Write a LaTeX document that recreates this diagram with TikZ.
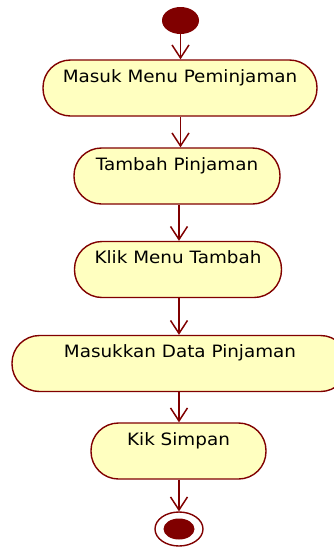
\documentclass[tikz,border=0pt]{standalone}
\usepackage{fontspec}
\setmainfont{DejaVu Sans}[FakeStretch=1.08]
\usetikzlibrary{arrows.meta,shapes.geometric}
\definecolor{umlred}{HTML}{800000}
\definecolor{umlfill}{HTML}{FFFFC0}
\tikzset{
  action/.style={draw=umlred, fill=umlfill, line width=1.4pt,
    rectangle, rounded corners=27.5pt, minimum height=56pt, inner sep=0pt,
    text height=13pt, text depth=25pt,
    font=\fontsize{17}{20}\selectfont},
  flow/.style={draw=umlred, line width=1.5pt,
    -{Straight Barb[length=13pt,width=17pt,line width=1.5pt]}},
  startnode/.style={ellipse, fill=umlred, minimum width=37pt, minimum height=27pt, inner sep=0pt},
}
\begin{document}
\begin{tikzpicture}[x=1pt,y=-1pt]
  \useasboundingbox (0,0) rectangle (334,547);
  \node[startnode] (start) at (180.5,20.5) {};
  \node[action, minimum width=274pt] (a1) at (180,88) {Masuk Menu Peminjaman};
  \node[action, minimum width=206pt] (a2) at (177,176) {Tambah Pinjaman};
  \node[action, minimum width=207pt] (a3) at (178,269.5) {Klik Menu Tambah};
  \node[action, minimum width=336pt] (a4) at (180,363.5) {Masukkan Data Pinjaman};
  \node[action, minimum width=175pt] (a5) at (178.5,451) {Kik Simpan};
  % final node: ring with filled core
  \node[ellipse, draw=umlred, fill=white, line width=1.4pt, minimum width=48pt, minimum height=34pt, inner sep=0pt] (end) at (179,529) {};
  \node[ellipse, fill=umlred, minimum width=31pt, minimum height=21pt, inner sep=0pt] (endcore) at (end.center) {};
  \draw[flow] (start.south) -- (start.south |- a1.north);
  \draw[flow] (a1.south -| start.south) -- (start.south |- a2.north);
  \draw[flow] (a2.south -| end.center) -- (end.center |- a3.north);
  \draw[flow] (a3.south -| end.center) -- (end.center |- a4.north);
  \draw[flow] (a4.south -| end.center) -- (end.center |- a5.north);
  \draw[flow] (a5.south -| end.center) -- (end.north);
\end{tikzpicture}
\end{document}
